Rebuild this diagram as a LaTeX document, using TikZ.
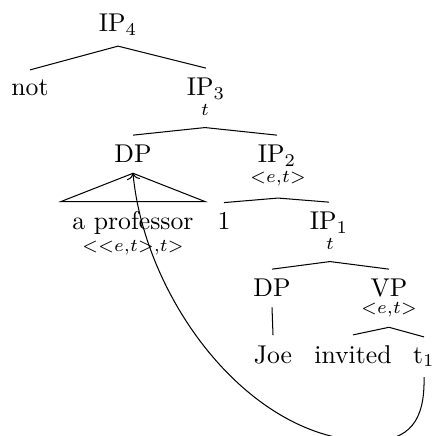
\documentclass[tikz,border=0pt]{standalone}
\usepackage{tikz}
\usetikzlibrary{arrows.meta}
\tikzset{
  cat/.style={anchor=base, inner xsep=0pt, inner ysep=3.8pt, font=\normalsize},
  typ/.style={anchor=base, inner xsep=0pt, inner ysep=4.3pt, font=\scriptsize},
  branch/.style={line width=0.4pt},
  movearrow/.style={-{To}, line width=0.4pt}
}

\begin{document}
\begin{tikzpicture}[x=0.389pt, y=-0.389pt]
\clip (0,0) rectangle (434,436);
% top
\node[cat] (ipfour) at (118,32) {IP$_4$};
\node[cat] (notw) at (30,96) {not};
\node[cat] (ipthree) at (206,96) {IP$_3$};
\node[typ] (ipthreet) at (205,116) {$t$};
% DP and IP2
\node[cat] (dpq) at (133,163) {DP};
\node[cat] (iptwo) at (277,163) {IP$_2$};
\node[typ] (iptwot) at (278,183) {${<}e{,}t{>}$};
\node[cat, inner xsep=4.3pt] (prof) at (133,230) {a professor};
\node[typ] (proft) at (133,252) {${<}{<}e{,}t{>}{,}t{>}$};
\node[cat] (one) at (224,230) {1};
\node[cat] (ipone) at (329,230) {IP$_1$};
\node[typ] (iponet) at (330,250) {$t$};
% lower clause
\node[cat] (dpj) at (272,297) {DP};
\node[cat] (vp) at (389,297) {VP};
\node[typ, inner ysep=4pt] (vpt) at (389,313) {${<}e{,}t{>}$};
\node[cat] (joe) at (273,363) {Joe};
\node[cat] (invited) at (353,363) {invited};
\node[cat] (tone) at (424,363) {t$_1$};
% branches
\draw[branch] (notw.north) -- (ipfour.south) -- (ipthree.north);
\draw[branch] (dpq.north) -- (ipthreet.south) -- (iptwo.north);
\draw[branch] (prof.north west) -- (dpq.south) -- (prof.north east) -- cycle;
\draw[branch] (one.north) -- (iptwot.south) -- (ipone.north);
\draw[branch] (dpj.north) -- (iponet.south) -- (vp.north);
\draw[branch] (dpj.south) -- (joe.north);
\draw[branch] (invited.north) -- (vpt.south) -- (tone.north);
% movement
\draw[movearrow] (tone.south) .. controls (425,420) and (410,441) .. (370,441)
  .. controls (250,441) and (145,300) .. (dpq.south);
\end{tikzpicture}
\end{document}
